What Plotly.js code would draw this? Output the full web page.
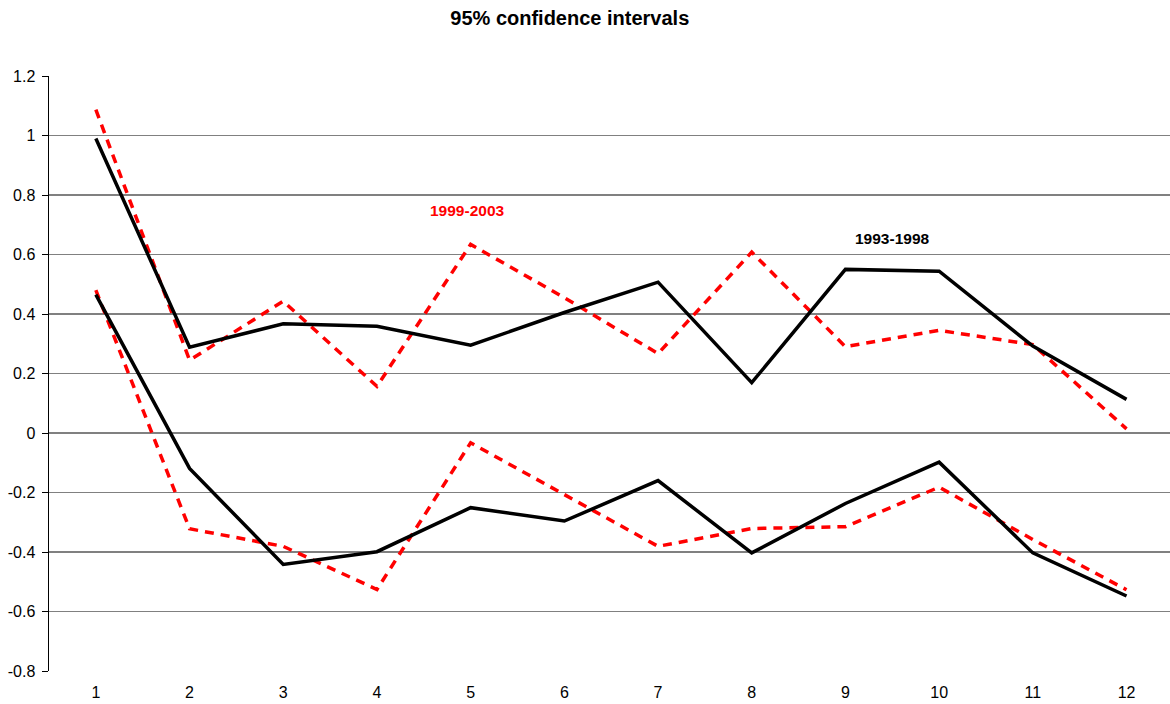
<!DOCTYPE html>
<html>
<head>
<meta charset="utf-8">
<script src="https://cdn.plot.ly/plotly-3.0.1.min.js"></script>
<style>html,body{margin:0;padding:0;background:#fff;}#chart{width:1170px;height:704px;}</style>
</head>
<body>
<div id="chart"></div>
<script>
const categories = [1, 2, 3, 4, 5, 6, 7, 8, 9, 10, 11, 12];
const upper9398 = [0.99, 0.288, 0.367, 0.359, 0.295, 0.405, 0.507, 0.169, 0.55, 0.544, 0.292, 0.113];
const lower9398 = [0.465, -0.119, -0.442, -0.399, -0.251, -0.296, -0.16, -0.403, -0.237, -0.098, -0.403, -0.548];
const upper9903 = [1.087, 0.245, 0.443, 0.157, 0.634, 0.455, 0.267, 0.608, 0.29, 0.345, 0.297, 0.014];
const lower9903 = [0.48, -0.322, -0.381, -0.526, -0.033, -0.207, -0.381, -0.321, -0.315, -0.182, -0.358, -0.527];
const yTickVals = [1.2, 1, 0.8, 0.6, 0.4, 0.2, 0, -0.2, -0.4, -0.6, -0.8];
const yTickText = ["1.2", "1", "0.8", "0.6", "0.4", "0.2", "0", "-0.2", "-0.4", "-0.6", "-0.8"];
const boundaryTicks = [1.5, 2.5, 3.5, 4.5, 5.5, 6.5, 7.5, 8.5, 9.5, 10.5, 11.5];

const blackLine = {color: '#000000', width: 3.5};
const redLine = {color: '#ff0000', width: 3.5, dash: '9px,7px'};

const traces = [
  {x: categories, y: upper9903, name: '1999-2003 upper', mode: 'lines', line: redLine},
  {x: categories, y: lower9903, name: '1999-2003 lower', mode: 'lines', line: redLine},
  {x: categories, y: upper9398, name: '1993-1998 upper', mode: 'lines', line: blackLine},
  {x: categories, y: lower9398, name: '1993-1998 lower', mode: 'lines', line: blackLine}
];

const xRange = [0.5, 12.464];
const layout = {
  width: 1170, height: 704,
  margin: {l: 49, r: 0, t: 76, b: 33},
  paper_bgcolor: '#ffffff', plot_bgcolor: '#ffffff',
  showlegend: false,
  font: {family: 'Liberation Sans, Arial, sans-serif', size: 16, color: '#000'},
  title: {text: '<b>95% confidence intervals</b>', font: {size: 20, color: '#000'},
          x: 0.487, xref: 'container', xanchor: 'center', y: 1 - 18/704, yref: 'container', yanchor: 'middle'},
  xaxis: {
    range: xRange, tickvals: categories, ticktext: categories.map(String),
    showgrid: false, zeroline: false, showline: false, ticks: '', ticklabelstandoff: 10,
    tickfont: {size: 16}, fixedrange: true
  },
  xaxis2: {
    overlaying: 'x', anchor: 'free', position: 0.4, range: xRange,
    tickvals: boundaryTicks, showticklabels: false, ticks: 'outside', ticklen: 5,
    tickcolor: '#000', tickwidth: 1, showgrid: false, zeroline: false,
    showline: true, linecolor: '#808080', linewidth: 1.5, side: 'bottom'
  },
  yaxis: {
    range: [-0.8, 1.2], tickvals: yTickVals, ticktext: yTickText,
    showgrid: true, gridcolor: '#808080', gridwidth: 1.5, zeroline: false,
    showline: true, linecolor: '#000', linewidth: 1.5, ticks: 'outside', ticklen: 6,
    tickcolor: '#000', ticklabelstandoff: 3, tickfont: {size: 16}
  },
  annotations: [
    {x: 4.97, y: 0.749, xref: 'x', yref: 'y', text: '<b>1999-2003</b>', showarrow: false,
     font: {size: 15.5, color: '#ff0000'}, xanchor: 'center', yanchor: 'middle'},
    {x: 9.5, y: 0.654, xref: 'x', yref: 'y', text: '<b>1993-1998</b>', showarrow: false,
     font: {size: 15.5, color: '#000'}, xanchor: 'center', yanchor: 'middle'}
  ]
};

Plotly.newPlot('chart', traces, layout, {displayModeBar: false, staticPlot: true});
</script>
</body>
</html>
